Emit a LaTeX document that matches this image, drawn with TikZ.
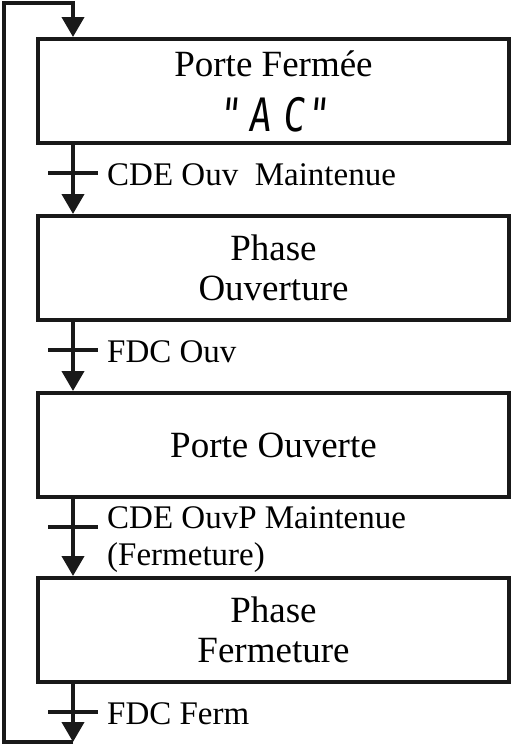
\documentclass[tikz,border=0pt]{standalone}
\usepackage{fontspec}
\setmainfont{Liberation Serif}
\newfontfamily\segfont[FakeStretch=0.8,FakeSlant=0.1]{DejaVu Sans Mono}
\usetikzlibrary{arrows.meta,positioning}
\tikzset{
    etape/.style={draw=blx,line width=4pt,minimum width=471pt,minimum height=104pt,inner sep=0pt,align=center,font=\fontsize{37}{40}\selectfont},
    lien/.style={draw=blx,line width=4pt,line join=miter,-{Triangle[width=22pt,length=20pt]}},
    barre/.style={draw=blx,line width=4pt},
    recep/.style={inner sep=0pt,anchor=base west,align=left,font=\fontsize{33}{37}\selectfont}
}

\begin{document}
\begin{tikzpicture}[x=1pt,y=-1pt]
                \colorlet{blx}{black!90}
                \useasboundingbox (0,0) rectangle (512,748);

                \node [etape] (ferme) at (273.5,91)
                    {Porte Fermée\\[15pt]{\segfont\fontsize{46}{46}\selectfont "\kern8pt A\kern12pt C\kern2pt"}};
                \node [etape] (ouvre) at (273.5,268) {Phase\\Ouverture};
                \node [etape] (ouvert) at (273.5,445) {Porte Ouverte};
                \node [etape] (fermer) at (273.5,630) {Phase\\Fermeture};

                \coordinate (axe) at (73,0);
                \coordinate (t1) at (73,173);
                \coordinate (t2) at (73,350);
                \coordinate (t3) at (73,527);
                \coordinate (t4) at (73,712);
                \coordinate (bas) at (73,742);
                \coordinate (coin) at (4,3);

                \draw [lien] (ferme.south -| axe) -- (ouvre.north -| axe);
                \draw [lien] (ouvre.south -| axe) -- (ouvert.north -| axe);
                \draw [lien] (ouvert.south -| axe) -- (fermer.north -| axe);
                \draw [lien] (fermer.south -| axe) -- (bas);
                \draw [lien] (bas) -| (coin) -| (ferme.north -| axe);

                \foreach \t in {t1,t2,t3,t4}
                    \draw [barre] ([xshift=-25pt]\t) -- ([xshift=25pt]\t);

                \node [recep] (r1) at ([xshift=34pt,yshift=-12pt]t1) {CDE Ouv\ \ Maintenue};
                \node [recep] (r2) at ([xshift=34pt,yshift=-12pt]t2) {FDC Ouv};
                \node [recep] (r3) at ([xshift=34pt,yshift=-38pt]t3) {CDE OuvP Maintenue\\(Fermeture)};
                \node [recep] (r4) at ([xshift=34pt,yshift=-12pt]t4) {FDC Ferm};
\end{tikzpicture}
\end{document}
